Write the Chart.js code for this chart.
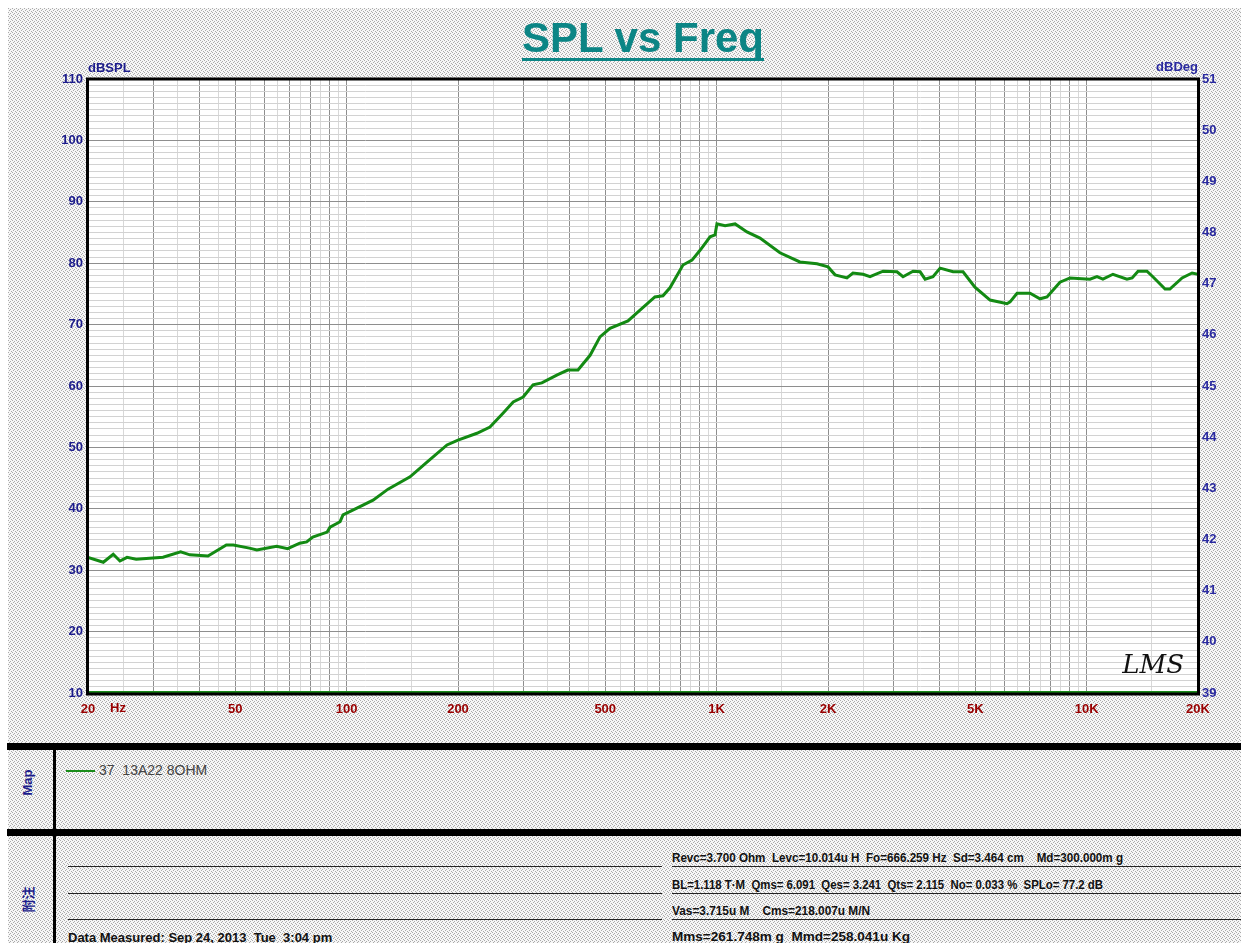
<!DOCTYPE html>
<html>
<head>
<meta charset="UTF-8">
<title>SPL vs Freq</title>
<script src="https://cdn.jsdelivr.net/npm/chart.js"></script>
<style>
  html, body { margin: 0; padding: 0; background: #fff; }
  body { width: 1241px; height: 943px; position: relative; overflow: hidden;
         font-family: "Liberation Sans", Arial, sans-serif; }
  #paper { position: absolute; left: 8px; top: 8px; width: 1233px; height: 935px; }
  #c { position: absolute; left: 0; top: 0; }
  .title { position: absolute; left: 443px; width: 400px; top: 17px; text-align: center;
           font: bold 42px/42px "Liberation Sans", Arial, sans-serif; color: #0b8585;
           text-decoration: underline; text-decoration-thickness: 3px; text-underline-offset: 6px;
           text-decoration-skip-ink: none; }
  .bar { position: absolute; background: #000; }
  .rule { position: absolute; height: 1px; background: #222; }
  .side { position: absolute; color: #1c1c8c; font-weight: bold; font-size: 13px;
          transform: rotate(-90deg); transform-origin: center; white-space: nowrap; }
  .legend { position: absolute; left: 66px; top: 762px; font-size: 14px; color: #444; white-space: nowrap; }
  .legend i { display: inline-block; width: 29px; height: 2px; background: #1a8c1a; vertical-align: middle; margin-right: 4px; }
  .note { position: absolute; font-weight: bold; font-size: 12px; color: #111; white-space: nowrap;
          font-family: "Liberation Sans Narrow", "Liberation Sans", Arial, sans-serif; transform-origin: left center; }
</style>
</head>
<body>
<div id="paper"></div>
<canvas id="c" width="1241" height="740"></canvas>
<div class="title">SPL vs Freq</div>

<div class="bar" style="left:7px; top:743px; width:1234px; height:7px"></div>
<div class="bar" style="left:7px; top:829px; width:1234px; height:7px"></div>
<div class="bar" style="left:53px; top:750px; width:3px; height:193px"></div>
<div class="side" style="left:12px; top:775px; width:30px; text-align:center">Map</div>
<div class="side" style="left:12px; top:890px; width:30px; text-align:center; font-family:'Noto Sans CJK SC'">附注</div>
<div class="legend"><i></i>37&nbsp; 13A22 8OHM</div>

<div class="rule" style="left:68px; top:866px; width:594px"></div>
<div class="rule" style="left:68px; top:893px; width:594px"></div>
<div class="rule" style="left:68px; top:919px; width:594px"></div>
<div class="rule" style="left:672px; top:866px; width:569px"></div>
<div class="rule" style="left:672px; top:893px; width:569px"></div>
<div class="rule" style="left:672px; top:919px; width:569px"></div>
<div class="note" style="left:68px; top:930px; font-size:13px">Data Measured: Sep 24, 2013&nbsp; Tue&nbsp; 3:04 pm</div>
<div class="note" data-w="451" style="left:672px; top:851px">Revc=3.700 Ohm&nbsp; Levc=10.014u H&nbsp; Fo=666.259 Hz&nbsp; Sd=3.464 cm &nbsp;&nbsp; Md=300.000m g</div>
<div class="note" data-w="431" style="left:672px; top:878px">BL=1.118 T·M&nbsp; Qms= 6.091&nbsp; Qes= 3.241&nbsp; Qts= 2.115&nbsp; No= 0.033 %&nbsp; SPLo= 77.2 dB</div>
<div class="note" data-w="198" style="left:672px; top:904px">Vas=3.715u M &nbsp;&nbsp; Cms=218.007u M/N</div>
<div class="note" data-w="238" style="left:672px; top:930px">Mms=261.748m g&nbsp; Mmd=258.041u Kg</div>

<script>
// measured curve
const freqHz = [20, 22, 23.4, 24.4, 25.5, 27, 31.9, 35.6, 37.7, 42.2, 47.3, 49.4, 54.6, 57.2, 64.7, 69.3,
  74.7, 78, 81, 88.6, 90.2, 96, 97.8, 106.6, 117.9, 129.4, 148.4, 164.9, 186.8, 200, 225, 244, 265, 282,
  300, 319, 337, 371, 396, 422, 455, 484, 515, 576, 609, 681, 716, 748, 811, 858, 902, 960, 990, 1002,
  1054, 1122, 1208, 1310, 1483, 1679, 1868, 2000, 2090, 2250, 2336, 2488, 2598, 2818, 3072, 3190, 3396,
  3548, 3660, 3844, 4018, 4356, 4634, 4990, 5484, 6092, 6210, 6486, 7034, 7482, 7816, 8472, 9016, 10210,
  10666, 11068, 11780, 12854, 13274, 13774, 14556, 15102, 16294, 16790, 18114, 19278, 20000];
const splDb = [32.1, 31.3, 32.6, 31.5, 32.1, 31.8, 32.1, 33.0, 32.5, 32.3, 34.1, 34.1, 33.6, 33.3, 33.9, 33.5,
  34.4, 34.6, 35.4, 36.2, 37.0, 37.9, 39.0, 40.1, 41.4, 43.2, 45.2, 47.6, 50.4, 51.2, 52.3, 53.3, 55.6, 57.4,
  58.2, 60.2, 60.5, 61.8, 62.6, 62.6, 65.0, 68.0, 69.4, 70.6, 71.9, 74.5, 74.7, 76.0, 79.7, 80.5, 82.1, 84.3, 84.6, 86.4,
  86.1, 86.4, 85.1, 84.1, 81.7, 80.2, 79.9, 79.4, 78.1, 77.6, 78.4, 78.2, 77.8, 78.7, 78.6, 77.8, 78.7,
  78.6, 77.4, 77.8, 79.2, 78.6, 78.6, 76.1, 74.0, 73.4, 73.7, 75.1, 75.1, 74.2, 74.5, 76.9, 77.6, 77.4,
  77.8, 77.4, 78.2, 77.4, 77.6, 78.7, 78.7, 77.8, 75.8, 75.8, 77.6, 78.4, 78.2];

// axis labels
const xLabelFreqs = [20, 50, 100, 200, 500, 1000, 2000, 5000, 10000, 20000];
const xLabelText = ['20', '50', '100', '200', '500', '1K', '2K', '5K', '10K', '20K'];
const gridSteps = [1, 1.5, 2, 2.5, 3, 3.5, 4, 4.5, 5, 5.5, 6, 6.5, 7, 7.5, 8, 8.5, 9, 9.5];
const splRange = [10, 110];
const degRange = [39, 51];

// dotted paper background
(function () {
  const t = document.createElement('canvas');
  t.width = 4; t.height = 4;
  const g = t.getContext('2d');
  g.fillStyle = '#f6f6f6'; g.fillRect(0, 0, 4, 4);
  g.fillStyle = '#aaaaaa';
  [[0, 0], [2, 1], [1, 2], [3, 3]].forEach(p => g.fillRect(p[0], p[1], 1, 1));
  document.getElementById('paper').style.background = 'url(' + t.toDataURL() + ')';
})();

// squeeze the parameter lines to their width in the print
document.querySelectorAll('.note[data-w]').forEach(el => {
  const w = el.getBoundingClientRect().width;
  el.style.transform = 'scaleX(' + (+el.dataset.w / w) + ')';
});

const gridFreqs = [];
[10, 100, 1000, 10000].forEach(d => gridSteps.forEach(m => {
  const v = Math.round(m * d);
  if (v >= 20 && v <= 20000) gridFreqs.push(v);
}));
const isMajorFreq = v => { const m = v / Math.pow(10, Math.floor(Math.log10(v) + 1e-9)); return Math.abs(m - Math.round(m)) < 1e-6; };

const splGrid = [];
for (let v = splRange[0]; v <= splRange[1]; v++) splGrid.push(v);

const labelFont = { family: '"Liberation Sans", Arial, sans-serif', size: 13, weight: 'bold' };

const framePlugin = {
  id: 'frame',
  beforeDraw(chart) {
    const { ctx, chartArea: a } = chart;
    ctx.save();
    ctx.fillStyle = '#fff';
    ctx.fillRect(a.left, a.top, a.right - a.left, a.bottom - a.top);
    ctx.restore();
  },
  afterDraw(chart) {
    const { ctx, chartArea: a } = chart;
    ctx.save();
    ctx.strokeStyle = '#1a8c1a';
    ctx.lineWidth = 2;
    ctx.beginPath(); ctx.moveTo(a.left, a.bottom - 1); ctx.lineTo(a.right, a.bottom - 1); ctx.stroke();
    ctx.strokeStyle = '#000';
    ctx.lineWidth = 3;
    ctx.strokeRect(a.left - 0.5, a.top, a.right - a.left + 1, a.bottom - a.top + 1);
    ctx.font = 'bold 13px "Liberation Sans", Arial, sans-serif';
    ctx.fillStyle = '#1c1c8c';
    ctx.textBaseline = 'alphabetic';
    ctx.textAlign = 'left';
    ctx.fillText('dBSPL', a.left, a.top - 7);
    ctx.textAlign = 'right';
    ctx.fillStyle = '#2a2aa0';
    ctx.fillText('dBDeg', a.right, a.top - 8);
    ctx.fillStyle = '#990000';
    ctx.textAlign = 'left';
    ctx.textBaseline = 'top';
    ctx.fillText('Hz', chart.scales.x.getPixelForValue(20) + 22, a.bottom + 9);
    ctx.fillStyle = '#111';
    ctx.textAlign = 'right';
    ctx.textBaseline = 'alphabetic';
    ctx.font = 'italic 26px "DejaVu Serif", serif';
    ctx.fillText('LMS', a.right - 14, a.bottom - 20);
    ctx.restore();
  }
};

new Chart(document.getElementById('c'), {
  type: 'line',
  data: {
    datasets: [{
      label: '37  13A22 8OHM',
      data: freqHz.map((f, i) => ({ x: f, y: splDb[i] })),
      borderColor: '#138a13',
      borderWidth: 3,
      pointRadius: 0,
      tension: 0,
      yAxisID: 'y'
    }]
  },
  options: {
    responsive: false,
    animation: false,
    layout: { padding: { top: 79, left: 0, right: 0, bottom: 0 } },
    plugins: { legend: { display: false }, tooltip: { enabled: false } },
    scales: {
      x: {
        type: 'logarithmic', min: 20, max: 20000,
        afterBuildTicks: s => { s.ticks = gridFreqs.map(v => ({ value: v })); },
        afterFit: s => { s.height = 47; },
        border: { display: false },
        grid: { drawTicks: false, color: c => isMajorFreq(c.tick.value) ? '#8e8e8e' : '#d8d8d8' },
        ticks: {
          autoSkip: false, maxRotation: 0, padding: 9, color: '#990000', font: labelFont,
          callback: v => { const i = xLabelFreqs.indexOf(v); return i < 0 ? '' : xLabelText[i]; }
        }
      },
      y: {
        position: 'left', min: splRange[0], max: splRange[1],
        afterBuildTicks: s => { s.ticks = splGrid.map(v => ({ value: v })); },
        afterFit: s => { s.width = 88; },
        border: { display: false },
        grid: { drawTicks: false, color: c => c.tick.value % 10 === 0 ? '#8e8e8e' : '#d2d2d2' },
        ticks: { autoSkip: false, padding: 5, color: '#1c1c8c', font: labelFont,
          callback: v => v % 10 === 0 ? v : '' }
      },
      y2: {
        position: 'right', min: degRange[0], max: degRange[1],
        afterFit: s => { s.width = 43; },
        border: { display: false },
        grid: { display: false, drawTicks: false },
        ticks: { stepSize: 1, autoSkip: false, padding: 4, color: '#2a2aa0', font: labelFont }
      }
    }
  },
  plugins: [framePlugin]
});
</script>
</body>
</html>
